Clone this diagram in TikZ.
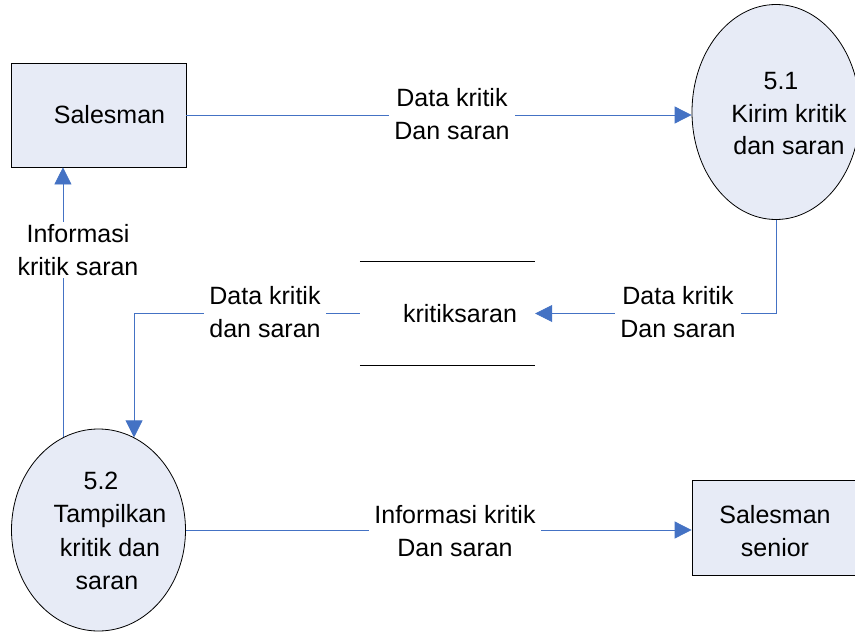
\documentclass[tikz,border=0pt]{standalone}
\usepackage{fontspec}
\setmainfont{Liberation Sans}
\usetikzlibrary{arrows.meta,shapes.geometric}
\definecolor{boxfill}{RGB}{231,235,246}
\definecolor{flow}{RGB}{68,114,196}
\begin{document}
\begin{tikzpicture}[x=1pt,y=-1pt,
  every node/.style={font=\fontsize{25}{32.5}\selectfont},
  entity/.style={draw=black,line width=0.8pt,fill=boxfill,inner sep=0},
  proc/.style={draw=black,line width=0.8pt,fill=boxfill,ellipse,inner sep=0},
  txt/.style={align=center,inner sep=0},
  flowline/.style={draw=flow,line width=0.8pt},
  arr/.style={flowline,-{Triangle[length=17pt,width=17pt]}},
  lbl/.style={fill=white,align=center,inner xsep=5pt,inner ysep=3pt}]
\useasboundingbox (0,0) rectangle (855,632);
\fill[white] (0,0) rectangle (855,632);

% external entities
\node[entity,minimum width=175,minimum height=104] (sales) at (98.5,115) {};
\node[txt] (tsales) at (109.5,115) {Salesman};
\node[entity,minimum width=168,minimum height=95] (senior) at (776,527.5) {};
\node[txt] (tsenior) at (775,531) {Salesman\\senior};

% processes
\node[proc,minimum width=168,minimum height=215] (p51) at (776,112) {};
\node[txt] (t51) at (789,114) {\hspace*{-16pt}5.1\\Kirim kritik\\dan saran};
\node[proc,minimum width=174,minimum height=202] (p52) at (98.5,530) {};
\node[txt,font=\fontsize{25}{33.5}\selectfont] (t52) at (110,531) {\hspace*{-18pt}5.2\\Tampilkan\\kritik dan\\\hspace*{-6pt}saran};

% data store
\node[minimum width=175,minimum height=103,inner sep=0] (store) at (447.5,313.5) {};
\node[txt] (tstore) at (460,314) {kritiksaran};
\draw[line width=0.8pt] (store.north west) -- (store.north east);
\draw[line width=0.8pt] (store.south west) -- (store.south east);

% flows
\draw[arr] (sales.east) -- (sales.east -| p51.west);
\draw[arr] (p51.south) |- (store.east);
\draw[arr] (store.west) -| (p52.69);
\draw[arr] (p52.111) -- (p52.111 |- sales.south);
\draw[arr] (p52.east) -- (p52.east -| senior.west);

% flow labels
\node[lbl] (l1) at (452,114) {Data kritik\\Dan saran};
\node[lbl] (l2) at (678,312) {Data kritik\\Dan saran};
\node[lbl] (l3) at (265,312) {Data kritik\\dan saran};
\node[lbl] (l4) at (78,250) {Informasi\\kritik saran};
\node[lbl] (l5) at (455,531) {Informasi kritik\\Dan saran};
\end{tikzpicture}
\end{document}
